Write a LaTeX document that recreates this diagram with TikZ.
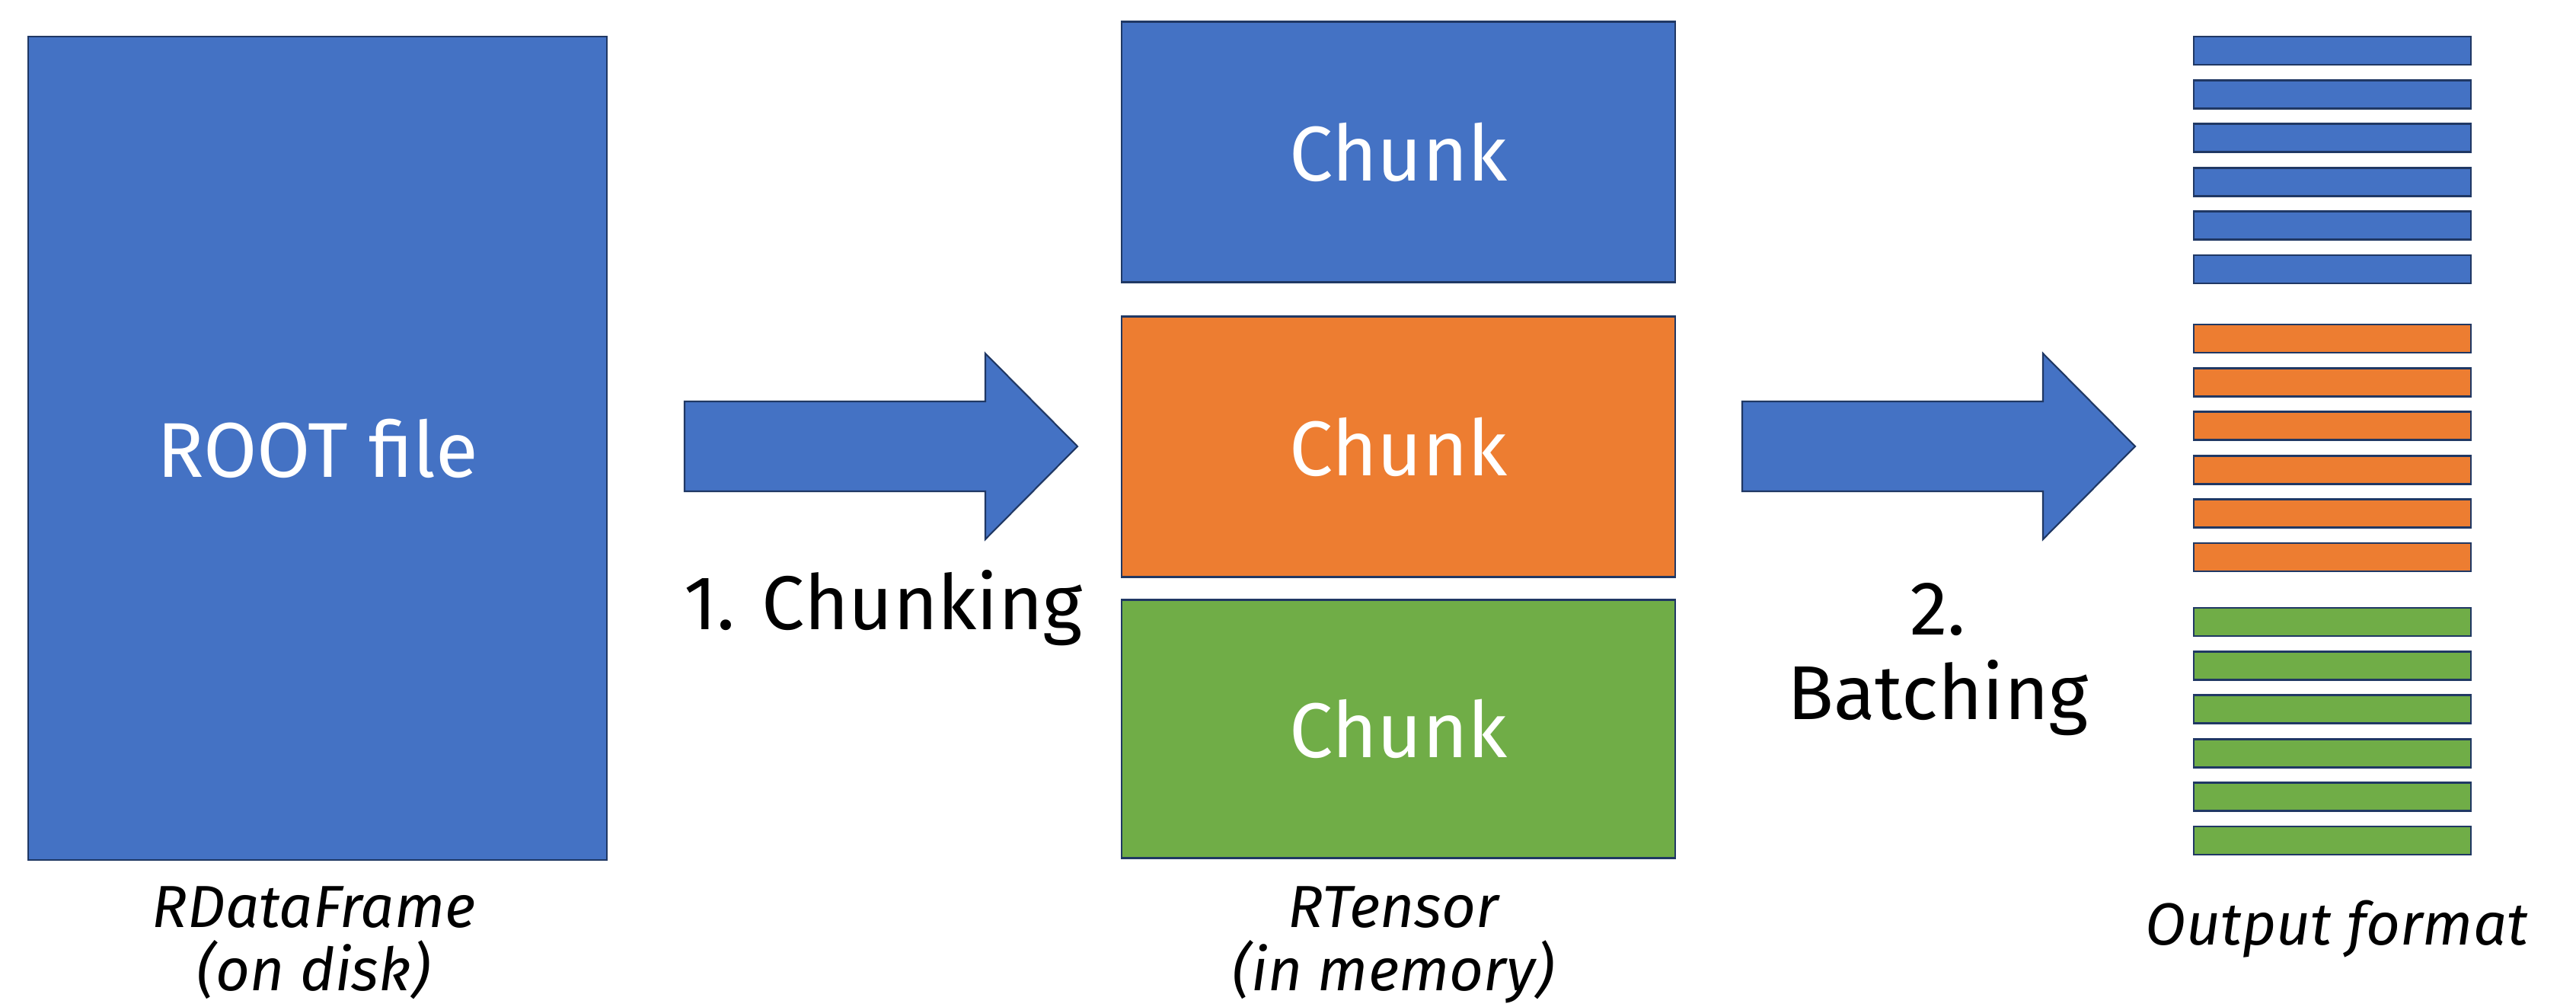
\documentclass[tikz,border=0pt]{standalone}
\usepackage{fontspec}
\setmainfont{Fira Sans}
\usetikzlibrary{positioning}

\definecolor{cblue}{HTML}{4472C4}
\definecolor{corange}{HTML}{ED7D31}
\definecolor{cgreen}{HTML}{70AD47}
\definecolor{cline}{HTML}{203864}

\begin{document}
\begin{tikzpicture}[
			node distance=0.45cm,
			block/.style={
				draw=cline,
				line width=0.8pt,
				outer sep=0pt,
				text=white,
				font=\fontsize{29}{34}\selectfont
			},
			chunk/.style={
				block,
				minimum width=7.27cm,
				minimum height=3.42cm
			},
			bar/.style={
				draw=cline,
				line width=0.8pt,
				minimum width=3.64cm,
				minimum height=0.37cm,
				inner sep=0pt
			},
			steplabel/.style={
				align=center,
				inner sep=0pt,
				font=\fontsize{28.5}{31.6}\selectfont
			},
			caption/.style={
				align=center,
				inner sep=0pt,
				font=\fontsize{22.2}{23.6}\selectfont\itshape
			},
			fatarrow/.pic={
				\draw[cline,line width=0.6pt,fill=cblue]
				(0,0.59) -- ++(3.95,0) -- ++(0,0.63) -- ++(1.21,-1.22)
				-- ++(-1.21,-1.22) -- ++(0,0.63) -- ++(-3.95,0) -- cycle;
			}
			]
			
			\useasboundingbox (0,0) rectangle (33.83,-13.21);
			
			\node[block,fill=cblue,minimum width=7.6cm,minimum height=10.81cm] (root)
			at (4.17,-5.885) {ROOT file};
			
			\node[chunk,fill=cblue] (chunkA) at (18.365,-1.995) {Chunk};
			\node[chunk,fill=corange,below=0.45cm of chunkA] (chunkB) {Chunk};
			\node[chunk,fill=cgreen,below=0.30cm of chunkB,minimum height=3.39cm] (chunkC) {Chunk};
			
			% output batches
			\foreach \g/\top/\col in {0/0.48/cblue,1/4.26/corange,2/7.98/cgreen}{
				\foreach \i in {0,...,5}{
					\node[bar,fill=\col] (bar\g\i) at (30.63,{-\top-0.574*\i-0.185}) {};
				}
			}
			
			\pic (arrowA) at (8.99,-5.86) {fatarrow};
			\pic (arrowB) at (22.88,-5.86) {fatarrow};
			
			\node[steplabel,anchor=base] (chunking) at (11.60,-8.26) {1. Chunking};
			\node[steplabel,anchor=north] (batching) at (25.45,-7.65) {2.\\Batching};
			
			\node[caption,anchor=north] (rdf) at (4.12,-11.63) {RDataFrame\\(on disk)};
			\node[caption,anchor=north] (rtensor) at (18.30,-11.63) {RTensor\\(in memory)};
			\node[caption,anchor=base] (outfmt) at (30.69,-12.40) {Output format};
			
		\end{tikzpicture}
\end{document}
